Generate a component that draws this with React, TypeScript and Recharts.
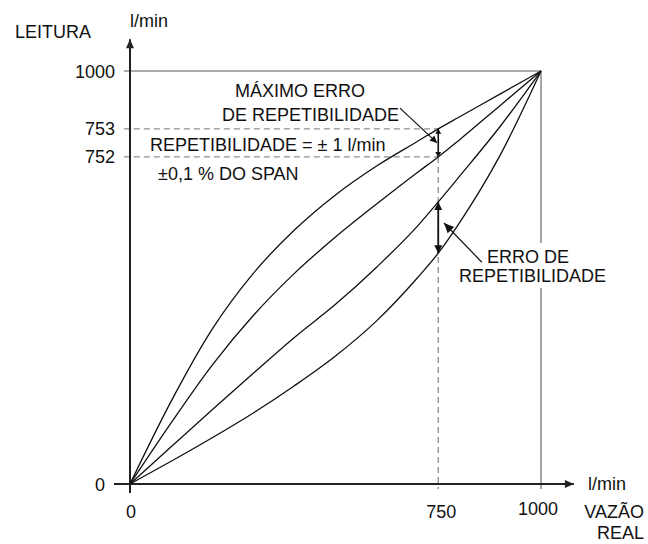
import React from 'react';
import { LineChart, Line, XAxis, YAxis, ReferenceLine } from 'recharts';

// Real flow (x) sample points, l/min
const flowX = [0, 100, 200, 300, 400, 500, 600, 700, 750, 800, 900, 1000];
// Reading curves (schematic reading scale), upper pair and lower pair
const upperIncreasing = [0, 200, 375, 510, 615, 700, 770, 830, 860, 888, 944, 1000];
const upperDecreasing = [0, 148, 288, 408, 510, 598, 678, 755, 792, 832, 916, 1000];
const lowerIncreasing = [0, 90, 180, 268, 355, 435, 525, 625, 683, 743, 865, 1000];
const lowerDecreasing = [0, 55, 112, 172, 238, 310, 395, 500, 559, 630, 795, 1000];

const xTicks = [0, 750, 1000];
const xTickLabels = ['0', '750', '1000'];
const yTickPos = [0, 792, 860, 1000];
const yTickLabels = ['0', '752', '753', '1000'];

const data = flowX.map((x, i) => ({
  x,
  a: upperIncreasing[i],
  b: upperDecreasing[i],
  c: lowerIncreasing[i],
  d: lowerDecreasing[i],
}));

const FONT = '"Liberation Sans", Arial, Helvetica, sans-serif';
const INK = '#111';
const GRAY = '#8f8f8f';

type ArrowOpts = {
  start?: boolean;
  end?: boolean;
  len?: number;
  half?: number;
  color?: string;
  width?: number;
  dash?: string;
};

const arrowShape = (o: ArrowOpts) => (p: any) => {
  const { x1, y1, x2, y2 } = p;
  const color = o.color ?? INK;
  const len = o.len ?? 8;
  const half = o.half ?? 4;
  const dx = x2 - x1;
  const dy = y2 - y1;
  const L = Math.hypot(dx, dy) || 1;
  const ux = dx / L;
  const uy = dy / L;
  const head = (tx: number, ty: number, vx: number, vy: number) => {
    const bx = tx - vx * len;
    const by = ty - vy * len;
    return `${tx},${ty} ${bx - vy * half},${by + vx * half} ${bx + vy * half},${by - vx * half}`;
  };
  return (
    <g>
      <line x1={x1} y1={y1} x2={x2} y2={y2} stroke={color} strokeWidth={o.width ?? 1.3} strokeDasharray={o.dash} />
      {o.end ? <polygon points={head(x2, y2, ux, uy)} fill={color} /> : null}
      {o.start ? <polygon points={head(x1, y1, -ux, -uy)} fill={color} /> : null}
    </g>
  );
};

const YTick = (props: any) => {
  const { x, y, payload } = props;
  const idx = yTickPos.indexOf(payload.value);
  const dx = payload.value === 0 ? -10 : 0;
  return (
    <text x={x + dx} y={y} dy={6.5} textAnchor="end" fontFamily={FONT} fontSize={18} fill={INK}>
      {yTickLabels[idx]}
    </text>
  );
};

const XTick = (props: any) => {
  const { x, y, payload } = props;
  const idx = xTicks.indexOf(payload.value);
  const dx = payload.value === 1000 ? -3 : payload.value === 750 ? 3 : 1;
  const dy = payload.value === 1000 ? -3 : 0;
  return (
    <text x={x + dx} y={y + 34 + dy} textAnchor="middle" fontFamily={FONT} fontSize={18} fill={INK}>
      {xTickLabels[idx]}
    </text>
  );
};

const txt = { fontFamily: FONT, fontSize: 18, fill: INK } as const;

export default function App() {
  return (
    <div style={{ position: 'absolute', left: 0, top: 0, width: 648, height: 544, background: '#fff' }}>
      <LineChart
        width={648}
        height={544}
        data={data}
        margin={{ top: 71, right: 107, bottom: 30, left: 70 }}
      >
        <XAxis
          dataKey="x"
          type="number"
          domain={[0, 1000]}
          ticks={xTicks}
          interval={0}
          axisLine={false}
          tickLine={false}
          tickSize={0}
          tickMargin={0}
          height={30}
          tick={XTick}
        />
        <YAxis
          type="number"
          domain={[0, 1000]}
          ticks={yTickPos}
          interval={0}
          axisLine={false}
          tickLine={false}
          tickSize={6}
          tickMargin={9}
          width={60}
          tick={YTick}
        />
        {/* frame at full scale */}
        <ReferenceLine
          segment={[{ x: -15, y: 1000 }, { x: 1000, y: 1000 }]}
          ifOverflow="visible"
          shape={arrowShape({ color: GRAY, width: 1.6 })}
        />
        <ReferenceLine
          segment={[{ x: 1000, y: -12 }, { x: 1000, y: 1000 }]}
          ifOverflow="visible"
          shape={arrowShape({ color: GRAY, width: 1.6 })}
        />
        {/* 753 / 752 dashed guides */}
        <ReferenceLine
          segment={[{ x: -15, y: 860 }, { x: 750, y: 860 }]}
          ifOverflow="visible"
          shape={arrowShape({ color: GRAY, width: 1.3, dash: '6 4' })}
        />
        <ReferenceLine
          segment={[{ x: -15, y: 792 }, { x: 750, y: 792 }]}
          ifOverflow="visible"
          shape={arrowShape({ color: GRAY, width: 1.3, dash: '6 4' })}
        />
        <ReferenceLine
          segment={[{ x: 750, y: 792 }, { x: 750, y: -12 }]}
          ifOverflow="visible"
          shape={arrowShape({ color: GRAY, width: 1.3, dash: '6 4' })}
        />
        {/* axes with arrows */}
        <ReferenceLine
          segment={[{ x: -39, y: 0 }, { x: 1080, y: 0 }]}
          ifOverflow="visible"
          shape={arrowShape({ end: true, len: 9, half: 4, color: '#222', width: 2 })}
        />
        <ReferenceLine
          segment={[{ x: 0, y: -22 }, { x: 0, y: 1077 }]}
          ifOverflow="visible"
          shape={arrowShape({ end: true, len: 9, half: 4, color: '#222', width: 2 })}
        />
        <Line type="monotone" dataKey="a" stroke={INK} strokeWidth={1.3} dot={false} isAnimationActive={false} />
        <Line type="monotone" dataKey="b" stroke={INK} strokeWidth={1.3} dot={false} isAnimationActive={false} />
        <Line type="monotone" dataKey="c" stroke={INK} strokeWidth={1.3} dot={false} isAnimationActive={false} />
        <Line type="monotone" dataKey="d" stroke={INK} strokeWidth={1.3} dot={false} isAnimationActive={false} />
        {/* error arrows */}
        <ReferenceLine
          segment={[{ x: 750, y: 860 }, { x: 750, y: 792 }]}
          ifOverflow="visible"
          shape={arrowShape({ start: true, end: true, len: 5, half: 3, width: 1.6 })}
        />
        <ReferenceLine
          segment={[{ x: 750, y: 683 }, { x: 750, y: 559 }]}
          ifOverflow="visible"
          shape={arrowShape({ start: true, end: true, len: 8, half: 4, width: 1.8 })}
        />
        <ReferenceLine
          segment={[{ x: 657, y: 910 }, { x: 747, y: 826 }]}
          ifOverflow="visible"
          shape={arrowShape({ end: true, len: 7, half: 3.5, width: 1.2 })}
        />
        <ReferenceLine
          segment={[{ x: 856, y: 537 }, { x: 764, y: 632 }]}
          ifOverflow="visible"
          shape={arrowShape({ end: true, len: 10, half: 4.5, width: 1.2 })}
        />
      </LineChart>
      <svg
        width={648}
        height={544}
        style={{ position: 'absolute', left: 0, top: 0, pointerEvents: 'none' }}
      >
        <rect x={535} y={243} width={12} height={45} fill="#fff" />
        <text x={15} y={38} {...txt}>LEITURA</text>
        <text x={130} y={27} {...txt}>l/min</text>
        <text x={588} y={490} {...txt}>l/min</text>
        <text x={644} y={518} textAnchor="end" {...txt}>VAZÃO</text>
        <text x={644} y={539} textAnchor="end" {...txt}>REAL</text>
        <text x={235} y={97} {...txt}>MÁXIMO ERRO</text>
        <text x={222} y={121} {...txt}>DE REPETIBILIDADE</text>
        <text x={150} y={151} {...txt}>REPETIBILIDADE = ± 1 l/min</text>
        <text x={158} y={180} {...txt}>±0,1 % DO SPAN</text>
        <text x={487} y={263} {...txt}>ERRO DE</text>
        <text x={459} y={282} {...txt}>REPETIBILIDADE</text>
      </svg>
    </div>
  );
}
